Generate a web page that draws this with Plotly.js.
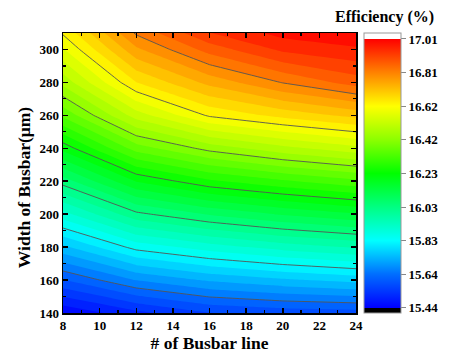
<!DOCTYPE html>
<html>
<head>
<meta charset="utf-8">
<script src="https://cdn.plot.ly/plotly-3.0.1.min.js"></script>
<style>html,body{margin:0;padding:0;background:#fff;}#chart{width:451px;height:353px;}</style>
</head>
<body>
<div id="chart"></div>
<script>
// Number of busbar lines (x) and busbar width in µm (y)
const busbarLines = [8, 12, 16, 20, 24];
const busbarWidth = [140, 160, 180, 200, 220, 240, 260, 280, 300, 310];
// Efficiency (%) rows follow busbarWidth, columns follow busbarLines
const row140 = [15.445, 15.507, 15.556, 15.572, 15.578];
const row160 = [15.595, 15.677, 15.721, 15.747, 15.768];
const row180 = [15.745, 15.847, 15.892, 15.928, 15.955];
const row200 = [15.896, 16.018, 16.072, 16.112, 16.143];
const row220 = [16.047, 16.188, 16.256, 16.297, 16.333];
const row240 = [16.200, 16.361, 16.436, 16.487, 16.526];
const row260 = [16.351, 16.519, 16.624, 16.670, 16.709];
const row280 = [16.474, 16.656, 16.748, 16.816, 16.871];
const row300 = [16.574, 16.766, 16.870, 16.940, 16.965];
const row310 = [16.623, 16.820, 16.930, 16.985, 17.000];
const efficiency = [row140, row160, row180, row200, row220, row240, row260, row280, row300, row310];

// Colorbar tick levels and labels
const levelValues = [15.44, 15.63625, 15.8325, 16.02875, 16.225, 16.42125, 16.6175, 16.81375, 17.01];
const levelLabels = ['15.44', '15.64', '15.83', '16.03', '16.23', '16.42', '16.62', '16.81', '17.01'];

const zMin = 15.44, zMax = 17.01;
const jet = [
  [0.000, 'rgb(0,0,255)'],
  [0.125, 'rgb(0,110,255)'],
  [0.250, 'rgb(0,255,255)'],
  [0.375, 'rgb(0,255,130)'],
  [0.500, 'rgb(0,255,0)'],
  [0.625, 'rgb(140,255,0)'],
  [0.750, 'rgb(255,255,0)'],
  [0.875, 'rgb(255,130,0)'],
  [1.000, 'rgb(255,0,0)']
];
// extended scale for the colorbar: black below min, white above max
const padLo = 0.030, padHi = 0.035;
const cbMin = zMin - padLo, cbMax = zMax + padHi;
const span = cbMax - cbMin;
const f0 = padLo / span, f1 = (zMax - cbMin) / span;
const extScale = [[0, 'rgb(0,0,0)'], [f0, 'rgb(0,0,0)']];
jet.forEach(s => extScale.push([f0 + s[0] * (f1 - f0), s[1]]));
extScale.push([f1, 'rgb(255,255,255)']);
extScale.push([1, 'rgb(255,255,255)']);
extScale[2][0] = f0 + 1e-6;
extScale[extScale.length - 2][0] = f1 + 1e-6;

const serifBold = {family: 'Liberation Serif, Times New Roman, serif', color: '#000', weight: 'bold'};

const traces = [
  {
    type: 'heatmap', x: busbarLines, y: busbarWidth, z: efficiency,
    colorscale: extScale, zmin: cbMin, zmax: cbMax, zsmooth: 'best',
    hoverinfo: 'skip', showscale: true,
    colorbar: {
      x: 1.027, xanchor: 'left', xpad: 0, xref: 'paper',
      y: 0.5, yanchor: 'middle', ypad: 0,
      len: 280, lenmode: 'pixels', thickness: 37, thicknessmode: 'pixels',
      outlinewidth: 1, outlinecolor: '#999',
      tickmode: 'array', tickvals: levelValues, ticktext: levelLabels,
      ticks: 'outside', ticklen: 5, tickwidth: 1, tickcolor: '#888',
      tickfont: Object.assign({size: 13}, serifBold)
    }
  },
  {
    type: 'contour', x: busbarLines, y: busbarWidth, z: efficiency,
    colorscale: jet, zmin: zMin, zmax: zMax, zauto: false,
    autocontour: false,
    contours: {start: zMin, end: zMax, size: (zMax - zMin) / 40, coloring: 'fill', showlines: false},
    line: {width: 0, smoothing: 0},
    showscale: false, hoverinfo: 'skip'
  },
  {
    type: 'contour', x: busbarLines, y: busbarWidth, z: efficiency,
    autocontour: false,
    contours: {start: levelValues[1], end: levelValues[7], size: (zMax - zMin) / 8, coloring: 'none'},
    line: {width: 0.9, color: '#555', smoothing: 0},
    showscale: false, hoverinfo: 'skip'
  }
];

const axisCommon = {
  showline: true, linecolor: '#000', linewidth: 1.5, mirror: 'ticks',
  ticks: 'inside', ticklen: 5, tickwidth: 1.5, tickcolor: '#000',
  showgrid: false, zeroline: false,
  tickfont: Object.assign({size: 13}, serifBold)
};

const layout = {
  width: 451, height: 353,
  margin: {l: 63, r: 95, t: 33, b: 40},
  paper_bgcolor: '#fff', plot_bgcolor: '#fff',
  showlegend: false,
  xaxis: Object.assign({}, axisCommon, {
    range: [8, 24], tick0: 8, dtick: 2,
    minor: {ticks: 'inside', ticklen: 3, tickwidth: 1.2, tickcolor: '#000', dtick: 1, tick0: 8},
    title: {text: '# of Busbar line', font: Object.assign({size: 17.5}, serifBold), standoff: 4}
  }),
  yaxis: Object.assign({}, axisCommon, {
    range: [140, 310], tick0: 140, dtick: 20,
    minor: {ticks: 'inside', ticklen: 3, tickwidth: 1.2, tickcolor: '#000', dtick: 10, tick0: 140}
  }),
  annotations: [
    {
      text: 'Efficiency (%)', xref: 'paper', yref: 'paper',
      x: 1.0956, y: 1.057, xanchor: 'center', yanchor: 'middle',
      showarrow: false, font: Object.assign({size: 16}, serifBold)
    },
    {
      text: 'Width of Busbar(μm)', xref: 'paper', yref: 'paper', textangle: -90,
      x: -0.133, y: 0.446, xanchor: 'center', yanchor: 'middle',
      showarrow: false, font: Object.assign({size: 17.5}, serifBold)
    }
  ]
};

Plotly.newPlot('chart', traces, layout, {displayModeBar: false, staticPlot: true});
</script>
</body>
</html>
